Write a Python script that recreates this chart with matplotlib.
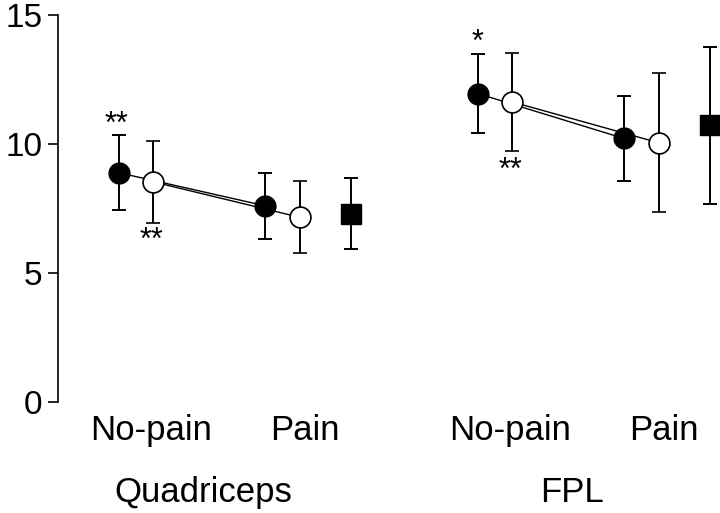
import matplotlib.pyplot as plt
from matplotlib import rcParams

rcParams["font.family"] = ["Liberation Sans", "DejaVu Sans"]

# -------------------------
# data
# -------------------------

muscles = ["Quadriceps", "FPL"]
conditions = ["No-pain", "Pain"]

filled_nopain = [8.88, 11.95]
filled_nopain_err = [1.45, 1.52]
open_nopain = [8.53, 11.63]
open_nopain_err = [1.60, 1.90]

filled_pain = [7.60, 10.21]
filled_pain_err = [1.28, 1.65]
open_pain = [7.15, 10.04]
open_pain_err = [1.40, 2.70]

square_vals = [7.30, 10.72]
square_err = [1.38, 3.05]

# significance marks above filled / below open no-pain points
stars_filled = ["**", "*"]
stars_open = ["**", "**"]

# -------------------------
# layout (x in pixel-like units)
# -------------------------

group_x = [119, 478]
off_fnp, off_onp, off_fp, off_op, off_sq = 0, 34, 146, 181, 232

fig = plt.figure(figsize=(7.2, 5.13), dpi=100)
ax = fig.add_axes([58 / 720, (513 - 401.7) / 513, 1 - 58 / 720, (401.7 - 15) / 513])

ebkw = dict(ecolor="black", elinewidth=1.4, capsize=5.2, capthick=1.4, zorder=2)

for i, gx in enumerate(group_x):
    # connecting lines
    ax.plot([gx + off_fnp, gx + off_fp], [filled_nopain[i], filled_pain[i]],
            color="black", lw=1.0, zorder=1)
    ax.plot([gx + off_onp, gx + off_op], [open_nopain[i], open_pain[i]],
            color="black", lw=1.0, zorder=1)

    # filled circles
    ax.errorbar([gx + off_fnp, gx + off_fp], [filled_nopain[i], filled_pain[i]],
                yerr=[filled_nopain_err[i], filled_pain_err[i]], fmt="o",
                ms=15, mfc="black", mec="black", **ebkw)
    # open circles
    ax.errorbar([gx + off_onp, gx + off_op], [open_nopain[i], open_pain[i]],
                yerr=[open_nopain_err[i], open_pain_err[i]], fmt="o",
                ms=15, mfc="white", mec="black", mew=1.2, **ebkw)
    # square
    ax.errorbar([gx + off_sq], [square_vals[i]], yerr=[square_err[i]], fmt="s",
                ms=14.5, mfc="black", mec="black", **ebkw)

    # condition labels
    ax.text(gx + 32, -1.48, conditions[0], ha="center", va="baseline", fontsize=25)
    ax.text(gx + 186, -1.48, conditions[1], ha="center", va="baseline", fontsize=25)

# stars
ax.text(group_x[0] - 3, 10.72, stars_filled[0], ha="center", va="center", fontsize=22)
ax.text(group_x[0] + off_onp - 2, 6.25, stars_open[0], ha="center", va="center", fontsize=22)
ax.text(group_x[1] - 1, 13.9, stars_filled[1], ha="center", va="center", fontsize=22)
ax.text(group_x[1] + off_onp - 2, 8.95, stars_open[1], ha="center", va="center", fontsize=22)

ax.text(203, -3.9, muscles[0], ha="center", va="baseline", fontsize=25)
ax.text(572, -3.9, muscles[1], ha="center", va="baseline", fontsize=25)

ax.set_xlim(58, 720)
ax.set_ylim(0, 15)
ax.set_yticks([0, 5, 10, 15])
ax.set_xticks([])
ax.tick_params(axis="y", labelsize=24, length=7, width=1.2, pad=4)
for s in ["top", "right", "bottom"]:
    ax.spines[s].set_visible(False)
ax.spines["left"].set_linewidth(1.2)

fig.savefig("out.png", dpi=100)
